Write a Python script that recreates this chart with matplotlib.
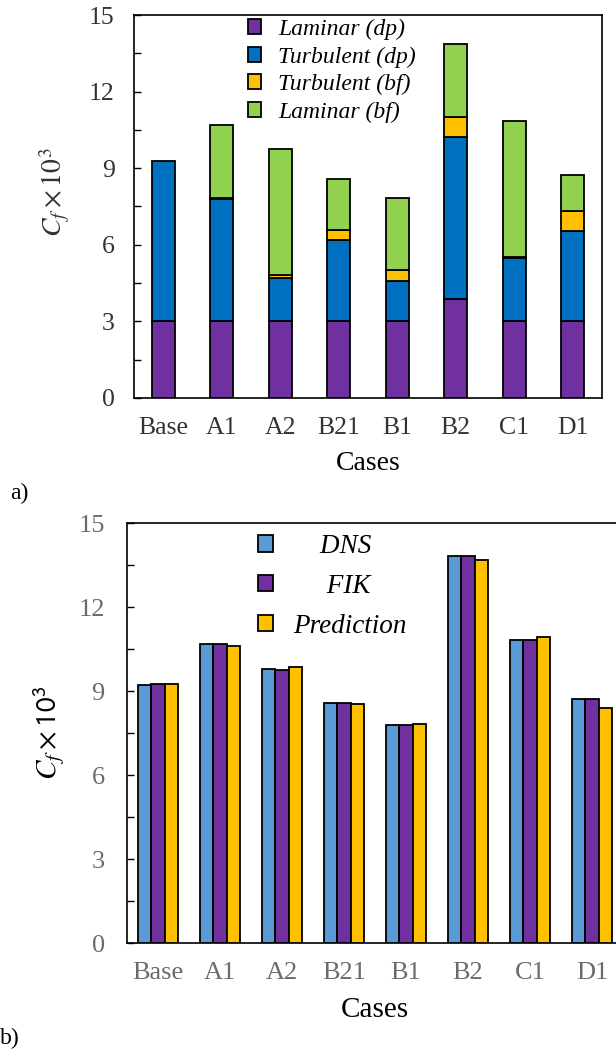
import numpy as np
import matplotlib
matplotlib.use('Agg')
import matplotlib.pyplot as plt
from matplotlib.patches import Patch
from matplotlib.ticker import MultipleLocator

plt.rcParams['font.family'] = ['Liberation Serif', 'DejaVu Serif']
plt.rcParams['mathtext.fontset'] = 'stix'

# Case names
cases = ['Base', 'A1', 'A2', 'B21', 'B1', 'B2', 'C1', 'D1']

# Panel a) stacked contributions (Cf x 10^3)
laminar_dp = [3.00, 3.00, 3.00, 3.00, 3.00, 3.89, 3.00, 3.00]
turbulent_dp = [6.29, 4.79, 1.70, 3.20, 1.59, 6.35, 2.48, 3.55]
turbulent_bf = [0.00, 0.03, 0.11, 0.39, 0.41, 0.76, 0.06, 0.78]
laminar_bf = [0.00, 2.86, 4.96, 1.99, 2.83, 2.85, 5.29, 1.41]

# Panel b) total Cf x 10^3
dns = [9.23, 10.68, 9.78, 8.56, 7.79, 13.81, 10.81, 8.73]
fik = [9.26, 10.69, 9.75, 8.58, 7.79, 13.84, 10.81, 8.71]
prediction = [9.26, 10.61, 9.86, 8.53, 7.84, 13.69, 10.94, 8.41]

purple = '#7030A0'
blue = '#0070C0'
yellow = '#FFC000'
green = '#92D050'
light_blue = '#5B9BD5'

fig = plt.figure(figsize=(6.16, 10.49), dpi=100)

# ---------------- panel a ----------------
ax1 = fig.add_axes([0.2175, 0.6206, 0.7597, 0.3651])
x = np.arange(len(cases))
w = 0.40
bottom = np.zeros(len(cases))
segs = [(laminar_dp, purple, 'Laminar (dp)'),
        (turbulent_dp, blue, 'Turbulent (dp)'),
        (turbulent_bf, yellow, 'Turbulent (bf)'),
        (laminar_bf, green, 'Laminar (bf)')]
for vals, col, lab in segs:
    vals = np.array(vals)
    mask = vals > 0
    ax1.bar(x[mask], vals[mask], w, bottom=bottom[mask], color=col,
            edgecolor='black', linewidth=1.3, zorder=3)
    bottom = bottom + vals

ax1.set_xlim(-0.5, 7.5)
ax1.set_ylim(0, 15)
ax1.yaxis.set_major_locator(MultipleLocator(3))
ax1.yaxis.set_minor_locator(MultipleLocator(1.5))
ax1.tick_params(axis='y', which='both', direction='in', length=5, width=1,
                labelsize=18.5, pad=14, labelcolor='#333333')
ax1.set_xticks(x)
ax1.set_xticklabels(cases)
ax1.tick_params(axis='x', length=0, labelsize=18.5, pad=14, labelcolor='#333333')
for s in ax1.spines.values():
    s.set_linewidth(1.2)
ax1.set_xlabel('Cases', fontsize=20, labelpad=8)
ax1.set_ylabel(r'$C_f \times 10^3$', fontsize=20, color='#333333')
ax1.yaxis.set_label_coords(-0.132, 0.538)

h1 = [Patch(facecolor=c, edgecolor='black', linewidth=1.3) for _, c, _ in segs]
l1 = [lab for _, _, lab in segs]
ax1.legend(h1, l1, loc='upper left', bbox_to_anchor=(0.243, 0.99),
           frameon=False, borderpad=0, borderaxespad=0,
           handlelength=0.58, handleheight=0.58, handletextpad=0.72,
           labelspacing=0.27, prop={'style': 'italic', 'size': 17})

# ---------------- panel b ----------------
ax2 = fig.add_axes([0.2062, 0.1010, 0.8052, 0.4004])
bw = 0.218
ax2.bar(x - bw, dns, bw, color=light_blue, edgecolor='black', linewidth=1.3, zorder=3)
ax2.bar(x, fik, bw, color=purple, edgecolor='black', linewidth=1.3, zorder=3)
ax2.bar(x + bw, prediction, bw, color=yellow, edgecolor='black', linewidth=1.3, zorder=3)

ax2.set_xlim(-0.5, 7.5)
ax2.set_ylim(0, 15)
ax2.yaxis.set_major_locator(MultipleLocator(3))
ax2.yaxis.set_minor_locator(MultipleLocator(1.5))
ax2.tick_params(axis='y', which='both', direction='in', length=5, width=1,
                labelsize=19, pad=16, labelcolor='#6b6b6b')
ax2.set_xticks(x)
ax2.set_xticklabels(cases)
ax2.tick_params(axis='x', length=0, labelsize=19, pad=14, labelcolor='#6b6b6b')
for s in ax2.spines.values():
    s.set_linewidth(1.2)
ax2.set_xlabel('Cases', fontsize=21, labelpad=9)
ax2.set_ylabel(r'$C_f \times \mathsf{10}^{\mathsf{3}}$', fontsize=21, labelpad=8)

h2 = [Patch(facecolor=c, edgecolor='black', linewidth=1.3)
      for c in (light_blue, purple, yellow)]
l2 = ['    DNS', '     FIK', 'Prediction']
ax2.legend(h2, l2, loc='upper left', bbox_to_anchor=(0.264, 0.974),
           frameon=False, borderpad=0, borderaxespad=0,
           handlelength=0.55, handleheight=0.55, handletextpad=0.75,
           labelspacing=0.55, prop={'style': 'italic', 'size': 19.5})

fig.text(0.016, 1 - 493 / 1049, 'a)', fontsize=17, va='center')
fig.text(0.0, 1 - 1038 / 1049, 'b)', fontsize=17, va='center')

fig.savefig('out.png', dpi=100)
